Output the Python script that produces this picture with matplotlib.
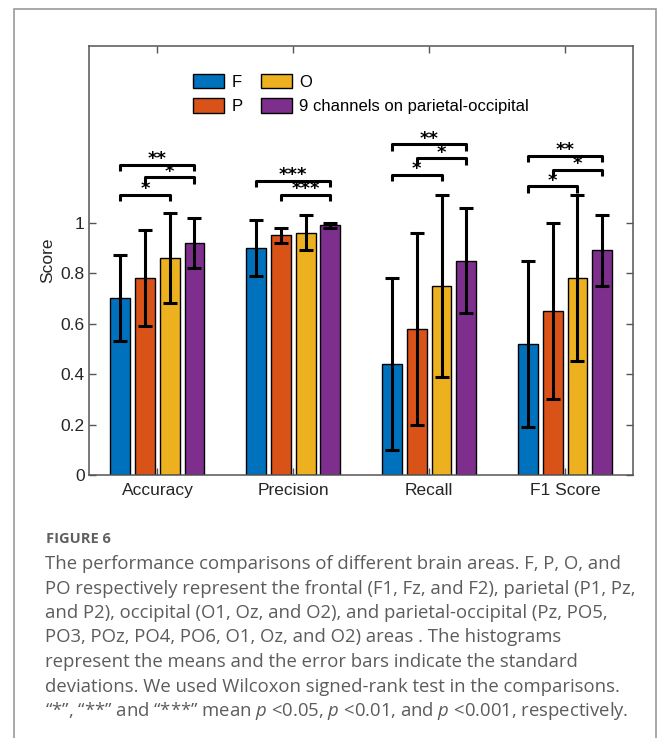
import matplotlib.pyplot as plt
import numpy as np
from matplotlib.patches import Rectangle

plt.rcParams['font.family'] = ['Liberation Sans', 'DejaVu Sans']
plt.rcParams['mathtext.fontset'] = 'custom'
plt.rcParams['mathtext.rm'] = 'Open Sans'
plt.rcParams['mathtext.it'] = 'Open Sans:italic'

metrics = ['Accuracy', 'Precision', 'Recall', 'F1 Score']
areas = ['F', 'P', 'O', '9 channels on parietal-occipital']
colors = ['#0072BD', '#D95319', '#EDB120', '#7E2F8E']

# means (bar heights) per area, one value per metric
mean_f = [0.70, 0.90, 0.44, 0.52]
mean_p = [0.78, 0.95, 0.58, 0.65]
mean_o = [0.86, 0.96, 0.75, 0.78]
mean_po = [0.92, 0.99, 0.85, 0.89]

# standard deviations
std_f = [0.17, 0.11, 0.34, 0.33]
std_p = [0.19, 0.03, 0.38, 0.35]
std_o = [0.18, 0.07, 0.36, 0.33]
std_po = [0.10, 0.01, 0.21, 0.14]

# significance brackets: metric index, first bar, second bar, stars, height
sig_metric = [0, 0, 0, 1, 1, 2, 2, 2, 3, 3, 3]
sig_from = [0, 1, 0, 1, 0, 0, 1, 0, 0, 1, 0]
sig_to = [2, 3, 3, 3, 3, 2, 3, 3, 2, 3, 3]
sig_label = ['*', '*', '**', '***', '***', '*', '*', '**', '*', '*', '**']
sig_level = [1.11, 1.18, 1.23, 1.11, 1.166, 1.19, 1.255, 1.31, 1.145, 1.21, 1.265]

caption_title = 'FIGURE 6'
caption_lines = [
    'The performance comparisons of different brain areas. F, P, O, and',
    'PO respectively represent the frontal (F1, Fz, and F2), parietal (P1, Pz,',
    'and P2), occipital (O1, Oz, and O2), and parietal-occipital (Pz, PO5,',
    'PO3, POz, PO4, PO6, O1, Oz, and O2) areas . The histograms',
    'represent the means and the error bars indicate the standard',
    'deviations. We used Wilcoxon signed-rank test in the comparisons.',
    '\u201c*\u201d, \u201c**\u201d and \u201c***\u201d mean $p$ <0.05, $p$ <0.01, and $p$ <0.001, respectively.',
]


def main():
    W, H = 659, 738
    fig = plt.figure(figsize=(W / 100, H / 100), dpi=100)
    ax = fig.add_axes([89.5 / W, 1 - 475 / H, (633 - 89.5) / W, (475 - 46) / H])

    means = [mean_f, mean_p, mean_o, mean_po]
    stds = [std_f, std_p, std_o, std_po]
    x = np.arange(1, len(metrics) + 1)
    n = len(areas)
    group_w = min(0.8, n / (n + 1.5))
    step = group_w / n
    bar_w = 0.8 * step
    offsets = (np.arange(n) - (n - 1) / 2) * step

    for k in range(n):
        ax.bar(x + offsets[k], means[k], width=bar_w, color=colors[k],
               edgecolor='black', linewidth=1.0, label=areas[k], zorder=2)
    for k in range(n):
        ax.errorbar(x + offsets[k], means[k], yerr=stds[k], fmt='none',
                    ecolor='black', elinewidth=2.2, capsize=5, capthick=2.2, zorder=3)

    leg_h = 0.026
    for g, i, j, lab, h in zip(sig_metric, sig_from, sig_to, sig_label, sig_level):
        x1 = x[g] + offsets[i]
        x2 = x[g] + offsets[j]
        ax.plot([x1, x1, x2, x2], [h - leg_h, h, h, h - leg_h], color='black',
                lw=2.2, solid_capstyle='butt', zorder=4)
        ax.text((x1 + x2) / 2, h + 0.002, lab, ha='center', va='baseline',
                fontsize=13, fontweight='bold', family='DejaVu Sans', zorder=4)

    ax.set_xlim(0.5, 4.5)
    ax.set_ylim(0, 1.7)
    ax.set_xticks(x)
    ax.set_xticklabels(metrics)
    ax.set_yticks([0, 0.2, 0.4, 0.6, 0.8, 1.0])
    ax.set_yticklabels(['0', '0.2', '0.4', '0.6', '0.8', '1'])
    ax.set_ylabel('Score', fontsize=12.5, color='#262626', labelpad=4)
    ax.tick_params(direction='in', length=5, width=1.0, colors='#555555',
                   labelcolor='#262626', labelsize=12.5, top=True, right=True)
    ax.tick_params(axis='x', pad=6)
    for s in ax.spines.values():
        s.set_color('#555555')
        s.set_linewidth(1.1)

    ax.legend(loc='upper left', bbox_to_anchor=(193 / W, 1 - 74 / H),
              bbox_transform=fig.transFigure, ncol=2, frameon=False,
              fontsize=12, handlelength=1.86, handleheight=0.96,
              handletextpad=0.45, columnspacing=1.1, labelspacing=0.5,
              borderpad=0, borderaxespad=0)

    # outer frame of the figure panel
    fig.patches.append(Rectangle((14 / W, -0.05), (656 - 14) / W, 1.05 - 9 / H,
                                 transform=fig.transFigure, fill=False,
                                 edgecolor='#9a9a9a', linewidth=1.2))

    fig.text(46 / W, 1 - 543 / H, caption_title, fontsize=10.5, fontweight='bold',
             color='#606060', family='Open Sans', va='baseline')
    for r, line in enumerate(caption_lines):
        fig.text(45 / W, 1 - (569 + 24.5 * r) / H, line, fontsize=13.3,
                 color='#5c5c5c', family='Open Sans', va='baseline')

    fig.savefig('out.png', dpi=100)


if __name__ == '__main__':
    main()
